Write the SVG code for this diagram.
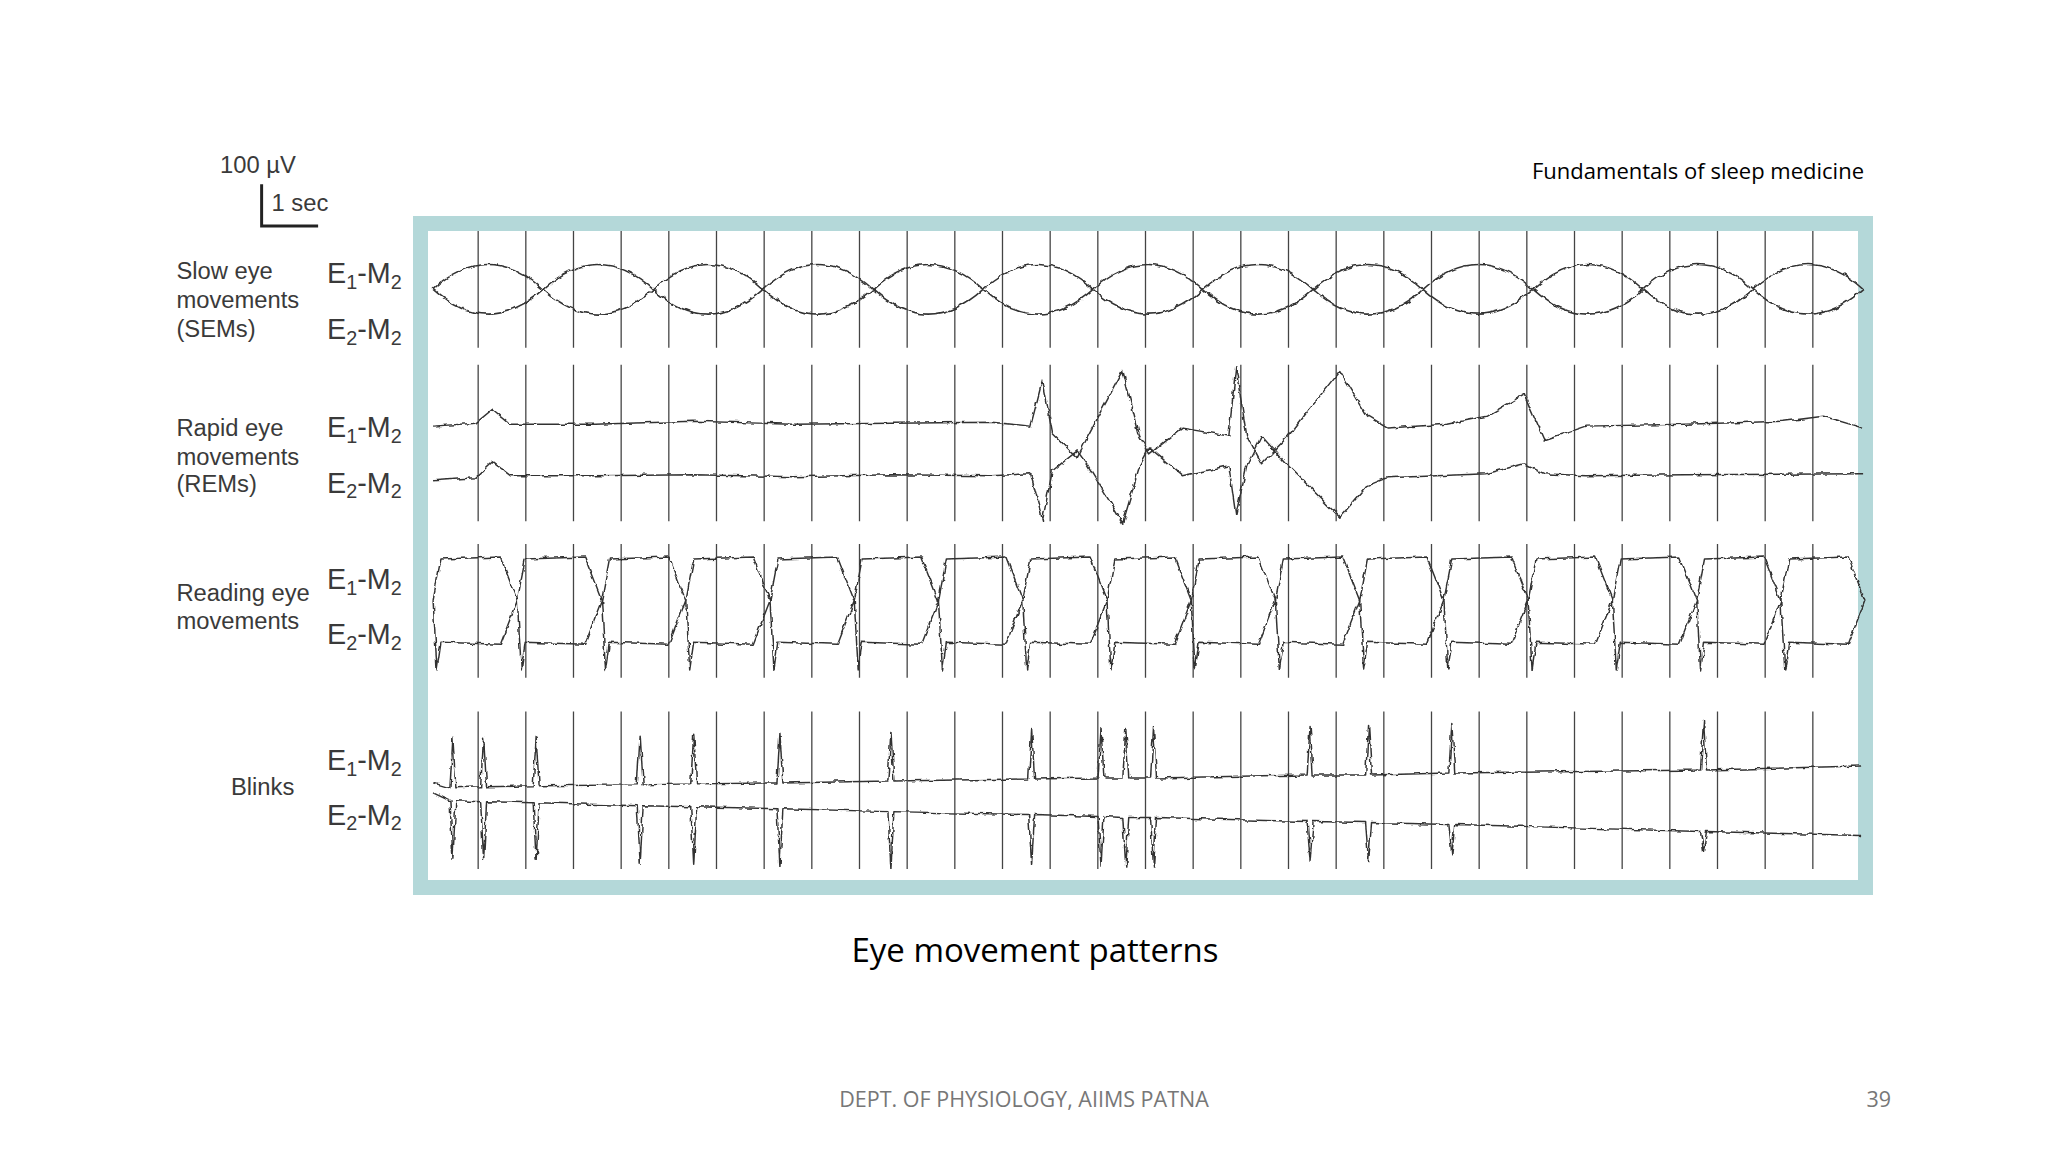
<svg xmlns="http://www.w3.org/2000/svg" width="2048" height="1152" viewBox="0 0 2048 1152">
<style>
.lab{font-family:"Liberation Sans",Arial,sans-serif;font-size:24px;fill:#3a3a3a}
.ch{font-family:"Liberation Sans",Arial,sans-serif;font-size:29px;fill:#3a3a3a}
.sub{font-size:20px}
.tr{fill:none;stroke:#333;stroke-width:1.5;stroke-linejoin:round}
.grid{stroke:#444;stroke-width:1.3}
</style>
<defs>
<filter id="noise" filterUnits="userSpaceOnUse" x="400" y="200" width="1520" height="720">
<feTurbulence type="fractalNoise" baseFrequency="0.12" numOctaves="2" seed="3" result="t"/>
<feDisplacementMap in="SourceGraphic" in2="t" scale="5" xChannelSelector="R" yChannelSelector="G"/>
</filter>
</defs>
<rect width="2048" height="1152" fill="#fff"/>
<g id="scale" transform="scale(0.991)">
<text class="lab" x="222" y="175" font-size="26">100 µV</text>
<path d="M264 186 V228 H321" fill="none" stroke="#222" stroke-width="3"/>
<text class="lab" x="274" y="213" font-size="26">1 sec</text>
</g>
<text x="1532" y="179" font-family="'Open Sans','Liberation Sans',sans-serif" font-size="22" fill="#000">Fundamentals of sleep medicine</text>
<g id="frame">
<rect x="420.5" y="223.5" width="1445" height="664" fill="#fff" stroke="#b4d8d9" stroke-width="15"/>
</g>
<g id="labels" transform="scale(0.991)">
<text class="lab" x="178" y="282">Slow eye</text>
<text class="lab" x="178" y="311">movements</text>
<text class="lab" x="178" y="340">(SEMs)</text>
<text class="lab" x="178" y="440">Rapid eye</text>
<text class="lab" x="178" y="469">movements</text>
<text class="lab" x="178" y="496">(REMs)</text>
<text class="lab" x="178" y="606">Reading eye</text>
<text class="lab" x="178" y="635">movements</text>
<text class="lab" x="233" y="802">Blinks</text>
<text class="ch" x="330" y="286">E<tspan class="sub" dy="6">1</tspan><tspan dy="-6">-M</tspan><tspan class="sub" dy="6">2</tspan></text>
<text class="ch" x="330" y="342">E<tspan class="sub" dy="6">2</tspan><tspan dy="-6">-M</tspan><tspan class="sub" dy="6">2</tspan></text>
<text class="ch" x="330" y="441">E<tspan class="sub" dy="6">1</tspan><tspan dy="-6">-M</tspan><tspan class="sub" dy="6">2</tspan></text>
<text class="ch" x="330" y="497">E<tspan class="sub" dy="6">2</tspan><tspan dy="-6">-M</tspan><tspan class="sub" dy="6">2</tspan></text>
<text class="ch" x="330" y="594">E<tspan class="sub" dy="6">1</tspan><tspan dy="-6">-M</tspan><tspan class="sub" dy="6">2</tspan></text>
<text class="ch" x="330" y="650">E<tspan class="sub" dy="6">2</tspan><tspan dy="-6">-M</tspan><tspan class="sub" dy="6">2</tspan></text>
<text class="ch" x="330" y="777">E<tspan class="sub" dy="6">1</tspan><tspan dy="-6">-M</tspan><tspan class="sub" dy="6">2</tspan></text>
<text class="ch" x="330" y="832">E<tspan class="sub" dy="6">2</tspan><tspan dy="-6">-M</tspan><tspan class="sub" dy="6">2</tspan></text>
</g>
<g id="grid" class="grid" transform="scale(0.991)">
<path id="g1" d="M482.5 233V351M482.5 368V526M482.5 549V684M482.5 718V877"/>
<use href="#g1" x="48.1"/><use href="#g1" x="96.2"/><use href="#g1" x="144.3"/><use href="#g1" x="192.4"/><use href="#g1" x="240.5"/><use href="#g1" x="288.6"/><use href="#g1" x="336.7"/><use href="#g1" x="384.8"/><use href="#g1" x="432.9"/><use href="#g1" x="481"/><use href="#g1" x="529.1"/><use href="#g1" x="577.2"/><use href="#g1" x="625.3"/><use href="#g1" x="673.4"/><use href="#g1" x="721.5"/><use href="#g1" x="769.6"/><use href="#g1" x="817.7"/><use href="#g1" x="865.8"/><use href="#g1" x="913.9"/><use href="#g1" x="962"/><use href="#g1" x="1010.1"/><use href="#g1" x="1058.2"/><use href="#g1" x="1106.3"/><use href="#g1" x="1154.4"/><use href="#g1" x="1202.5"/><use href="#g1" x="1250.6"/><use href="#g1" x="1298.7"/><use href="#g1" x="1346.8"/>
</g>
<g id="traces" filter="url(#noise)">
<g class="tr" transform="scale(0.991)">
<path d="M437 292 Q492.5 242 548 292 T659 292 T770 292 T881 292 T992 292 T1103 292 T1214 292 T1325 292 T1436 292 T1547 292 T1658 292 T1769 292 T1880 292"/>
<path d="M437 292 Q492.5 342 548 292 T659 292 T770 292 T881 292 T992 292 T1103 292 T1214 292 T1325 292 T1436 292 T1547 292 T1658 292 T1769 292 T1880 292"/>
<path d="M437 430 L480 427 497 413 515 428 600 428 700 425 800 428 900 427 1000 426 1040 430 1052 383 1062 437 1087 462 1098 440 1133 374 1150 440 1160 458 1193 432 1240 440 1247 370 1258 440 1273 468 1300 440 1352 374 1380 420 1400 432 1460 428 1500 420 1538 398 1558 444 1600 430 1700 428 1800 425 1840 420 1880 432"/>
<path d="M437 485 L480 482 497 466 515 480 600 480 700 479 800 481 900 479 1000 480 1040 478 1052 525 1062 475 1087 455 1098 470 1133 528 1150 470 1160 452 1193 480 1240 470 1247 520 1258 470 1273 440 1300 470 1352 522 1380 490 1400 482 1500 478 1538 468 1558 478 1600 480 1700 479 1880 478"/>
<path d="M437 606 l8 -42 l60 -2 l17 44 l8 -42 l60 -2 l17 44 l8 -42 l60 -2 l17 44 l8 -42 l60 -2 l17 44 l8 -42 l60 -2 l17 44 l8 -42 l60 -2 l17 44 l8 -42 l60 -2 l17 44 l8 -42 l60 -2 l17 44 l8 -42 l60 -2 l17 44 l8 -42 l60 -2 l17 44 l8 -42 l60 -2 l17 44 l8 -42 l60 -2 l17 44 l8 -42 l60 -2 l17 44 l8 -42 l60 -2 l17 44 l8 -42 l60 -2 l17 44 l8 -42 l60 -2 l17 44 l8 -42 l60 -2 l17 44"/>
<path d="M437 606 l4 70 l4 -28 l60 2 l17 -44 l4 70 l4 -28 l60 2 l17 -44 l4 70 l4 -28 l60 2 l17 -44 l4 70 l4 -28 l60 2 l17 -44 l4 70 l4 -28 l60 2 l17 -44 l4 70 l4 -28 l60 2 l17 -44 l4 70 l4 -28 l60 2 l17 -44 l4 70 l4 -28 l60 2 l17 -44 l4 70 l4 -28 l60 2 l17 -44 l4 70 l4 -28 l60 2 l17 -44 l4 70 l4 -28 l60 2 l17 -44 l4 70 l4 -28 l60 2 l17 -44 l4 70 l4 -28 l60 2 l17 -44 l4 70 l4 -28 l60 2 l17 -44 l4 70 l4 -28 l60 2 l17 -44 l4 70 l4 -28 l60 2 l17 -44 l4 70 l4 -28 l60 2 l17 -44"/>
<path d="M437 790 L454 795 457 745 460 795 485 794 488 744 491 794 538 793 541 744 544 793 643 792 646 742 649 792 697 791 700 741 703 791 784 790 787 740 790 790 896 788 899 738 902 788 1038 786 1041 736 1044 786 1108 785 1111 735 1114 785 1133 785 1136 735 1139 785 1161 785 1164 735 1167 785 1319 782 1322 732 1325 782 1378 782 1381 732 1384 782 1462 780 1465 730 1468 780 1716 777 1719 727 1722 777 1878 773"/>
<path d="M437 800 L454 808 457 866 460 808 485 809 488 867 491 809 538 810 541 868 544 810 643 813 646 871 649 813 697 814 700 872 703 814 784 816 787 874 790 816 896 819 899 877 902 819 1038 822 1041 872 1044 822 1108 824 1111 874 1114 824 1133 825 1136 875 1139 825 1161 825 1164 875 1167 825 1319 829 1322 869 1325 829 1378 830 1381 870 1384 830 1462 832 1465 862 1468 832 1716 839 1719 859 1722 839 1878 843"/>
</g>
</g>
<text x="1035" y="962" text-anchor="middle" font-family="'Open Sans','Liberation Sans',sans-serif" font-size="33" fill="#000">Eye movement patterns</text>
<text x="1024" y="1107" text-anchor="middle" font-family="'Open Sans','Liberation Sans',sans-serif" font-size="21.5" fill="#777">DEPT. OF PHYSIOLOGY, AIIMS PATNA</text>
<text x="1891" y="1107" text-anchor="end" font-family="'Open Sans','Liberation Sans',sans-serif" font-size="21.5" fill="#777">39</text>
</svg>
